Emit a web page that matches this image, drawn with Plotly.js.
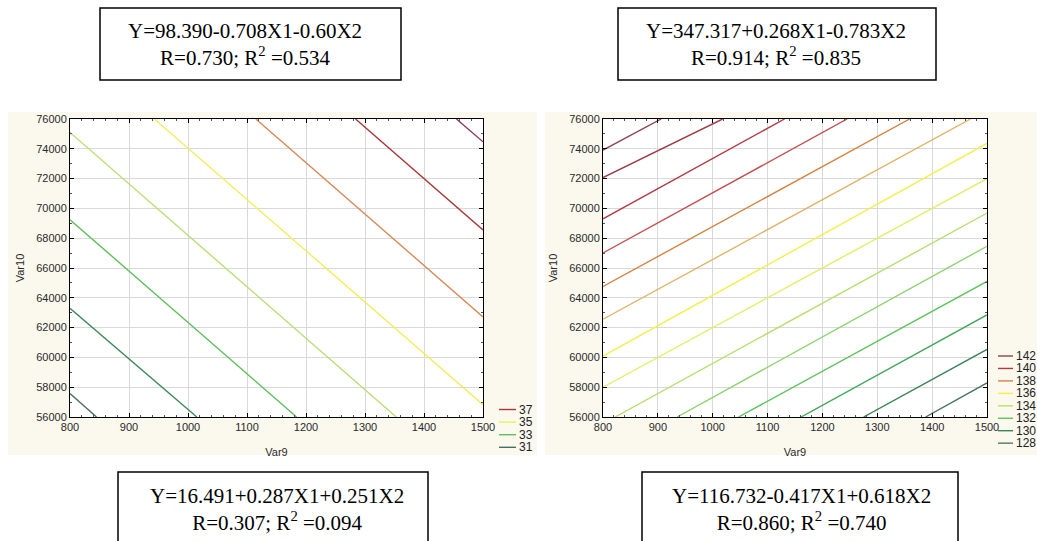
<!DOCTYPE html>
<html>
<head>
<meta charset="utf-8">
<script src="https://cdn.plot.ly/plotly-3.0.1.min.js"></script>
<style>
html, body { margin: 0; padding: 0; background: #ffffff; }
#chart { width: 1037px; height: 541px; }
</style>
</head>
<body>
<div id="chart"></div>
<script>
// ---------- data ----------
// Left panel: contour levels and the end points of each (straight) contour line
const leftLevels  = [38, 37, 36, 35, 34, 33, 32, 31];
const leftXStart  = [1455, 1284, 1115, 943, 800, 800, 800, 800];
const leftYStart  = [76000, 76000, 76000, 76000, 75100, 69240, 63300, 57570];
const leftXEnd    = [1500, 1500, 1500, 1500, 1353, 1184, 1015, 845];
const leftYEnd    = [74470, 68560, 62720, 56830, 56000, 56000, 56000, 56000];
const leftLegendLevels = [37, 35, 33, 31];

// Right panel
const rightLevels = [142, 141, 140, 139, 138, 137, 136, 135, 134, 133, 132, 131, 130, 129];
const rightXStart = [800, 800, 800, 800, 800, 800, 800, 800, 822, 935, 1047, 1161, 1275, 1388];
const rightYStart = [73910, 72070, 69300, 67010, 64760, 62560, 60090, 58000, 56000, 56000, 56000, 56000, 56000, 56000];
const rightXEnd   = [906, 1018, 1131, 1245, 1359, 1470, 1500, 1500, 1500, 1500, 1500, 1500, 1500, 1500];
const rightYEnd   = [76000, 76000, 76000, 76000, 76000, 76000, 74360, 72000, 69690, 67460, 65100, 62850, 60540, 58290];
const rightLegendLevels = [142, 140, 138, 136, 134, 132, 130, 128];

// Axes
const xTickVals = [800, 900, 1000, 1100, 1200, 1300, 1400, 1500];
const yTickVals = [56000, 58000, 60000, 62000, 64000, 66000, 68000, 70000, 72000, 74000, 76000];
const xTitle = 'Var9';
const yTitle = 'Var10';

// Regression equation boxes (top-left, top-right, bottom-left, bottom-right)
const equations = [
  'Y=98.390-0.708X1-0.60X2<br>R=0.730; R<sup>2</sup> =0.534',
  'Y=347.317+0.268X1-0.783X2<br>R=0.914; R<sup>2</sup> =0.835',
  'Y=16.491+0.287X1+0.251X2<br>R=0.307; R<sup>2</sup> =0.094',
  'Y=116.732-0.417X1+0.618X2<br>R=0.860; R<sup>2</sup> =0.740'
];

// ---------- styles ----------
const leftColors = {38: '#8a3d58', 37: '#aa3838', 36: '#d88a5a', 35: '#f1ee5a', 34: '#b8df76', 33: '#5fbf5c', 32: '#3f8a5c', 31: '#4a6f62'};
const rightColors = {142: '#8c4550', 141: '#9c3a48', 140: '#b23a46', 139: '#c44e4e', 138: '#d7823f', 137: '#e2b46a',
                     136: '#f2f04a', 135: '#dff064', 134: '#b6e06e', 133: '#8ed470', 132: '#5cc45c', 131: '#3fa656',
                     130: '#3a8456', 129: '#4b7263', 128: '#56786a'};

const W = 1037, H = 541;
const px = v => v / W;
const py = v => 1 - v / H;

function makeTraces(levels, xs, ys, xe, ye, colors, xa, ya) {
  return levels.map((lv, i) => ({
    type: 'scatter', mode: 'lines',
    x: [xs[i], xe[i]],
    y: [ys[i], ye[i]],
    xaxis: xa, yaxis: ya,
    name: String(lv),
    showlegend: false,
    line: {color: colors[lv], width: 1.4},
    hoverinfo: 'x+y+name'
  }));
}

const traces = []
  .concat(makeTraces(leftLevels, leftXStart, leftYStart, leftXEnd, leftYEnd, leftColors, 'x', 'y'))
  .concat(makeTraces(rightLevels, rightXStart, rightYStart, rightXEnd, rightYEnd, rightColors, 'x2', 'y2'));

const tickFont = {family: 'Liberation Sans, Arial, sans-serif', size: 11, color: '#2a2a2a'};

function xAxis(domain, anchor) {
  return {
    domain: domain, anchor: anchor, range: [800, 1500],
    tickvals: xTickVals, ticktext: xTickVals.map(String),
    showgrid: true, gridcolor: '#d9d9d9', gridwidth: 1, zeroline: false,
    showline: true, linecolor: '#000000', linewidth: 1, mirror: 'allticks',
    ticks: 'inside', ticklen: 4, tickcolor: '#000000', tickfont: tickFont,
    minor: {dtick: 20, tick0: 800, ticks: 'inside', ticklen: 2, tickcolor: '#555555', showgrid: false},
    title: {text: xTitle, font: tickFont, standoff: 16},
    fixedrange: true
  };
}
function yAxis(domain, anchor) {
  return {
    domain: domain, anchor: anchor, range: [56000, 76000],
    tickvals: yTickVals, ticktext: yTickVals.map(String),
    showgrid: true, gridcolor: '#d9d9d9', gridwidth: 1, zeroline: false,
    showline: true, linecolor: '#000000', linewidth: 1, mirror: 'allticks',
    ticks: 'inside', ticklen: 4, tickcolor: '#000000', tickfont: tickFont,
    minor: {dtick: 1000, tick0: 56000, ticks: 'inside', ticklen: 2, tickcolor: '#555555', showgrid: false},
    title: {text: yTitle, font: tickFont, standoff: 9},
    fixedrange: true
  };
}

const yDom = [py(417), py(119)];
const leftXDom = [px(70), px(483)];
const rightXDom = [px(603), px(987)];

const beige = '#fbf8ee';
const shapes = [
  // cream panels
  {type: 'rect', xref: 'paper', yref: 'paper', x0: px(8), x1: px(537), y0: py(455), y1: py(112), fillcolor: beige, line: {width: 0}, layer: 'below'},
  {type: 'rect', xref: 'paper', yref: 'paper', x0: px(545), x1: px(1040), y0: py(455), y1: py(112), fillcolor: beige, line: {width: 0}, layer: 'below'},
  // white plotting areas
  {type: 'rect', xref: 'paper', yref: 'paper', x0: leftXDom[0], x1: leftXDom[1], y0: yDom[0], y1: yDom[1], fillcolor: '#ffffff', line: {width: 0}, layer: 'below'},
  {type: 'rect', xref: 'paper', yref: 'paper', x0: rightXDom[0], x1: rightXDom[1], y0: yDom[0], y1: yDom[1], fillcolor: '#ffffff', line: {width: 0}, layer: 'below'}
];
const annotations = [];

// equation boxes: [left, right, top, bottom, text centre x, text centre y] in pixels
const boxGeom = [
  [100, 401, 8, 80, 245, 44],
  [618, 936, 8, 80, 776, 44],
  [118, 428, 472, 548, 277, 509],
  [642, 958, 472, 548, 801, 509]
];
boxGeom.forEach((g, i) => {
  shapes.push({type: 'rect', xref: 'paper', yref: 'paper', x0: px(g[0]), x1: px(g[1]), y0: py(g[3]), y1: py(g[2]),
               fillcolor: '#ffffff', line: {color: '#000000', width: 1.5}, layer: 'above'});
  annotations.push({xref: 'paper', yref: 'paper', x: px(g[4]), y: py(g[5]), xanchor: 'center', yanchor: 'middle',
                    text: equations[i], showarrow: false, align: 'center',
                    font: {family: 'Liberation Serif, Times New Roman, serif', size: 21, color: '#000000'}});
});

// legends (swatch line + label), one per panel: [swatch x0, swatch x1, text x, first row y, row step]
const legendFont = {family: 'Liberation Sans, Arial, sans-serif', size: 12, color: '#222222'};
function addLegend(levels, colors, geom) {
  levels.forEach((lv, i) => {
    const y = geom[3] + i * geom[4];
    shapes.push({type: 'line', xref: 'paper', yref: 'paper', x0: px(geom[0]), x1: px(geom[1]), y0: py(y), y1: py(y),
                 line: {color: colors[lv], width: 1.4}, layer: 'above'});
    annotations.push({xref: 'paper', yref: 'paper', x: px(geom[2]), y: py(y), xanchor: 'left', yanchor: 'middle',
                      text: String(lv), showarrow: false, font: legendFont, xshift: -2});
  });
}
addLegend(leftLegendLevels, leftColors, [499, 516, 519, 409.5, 12.6]);
addLegend(rightLegendLevels, rightColors, [998, 1013, 1016, 356, 12.45]);

const layout = {
  width: W, height: H,
  margin: {l: 0, r: 0, t: 0, b: 0, autoexpand: false},
  paper_bgcolor: '#ffffff', plot_bgcolor: 'rgba(0,0,0,0)',
  showlegend: false,
  xaxis: xAxis(leftXDom, 'y'), yaxis: yAxis(yDom, 'x'),
  xaxis2: xAxis(rightXDom, 'y2'), yaxis2: yAxis(yDom, 'x2'),
  shapes: shapes,
  annotations: annotations
};

Plotly.newPlot('chart', traces, layout, {displayModeBar: false, staticPlot: true});
</script>
</body>
</html>
